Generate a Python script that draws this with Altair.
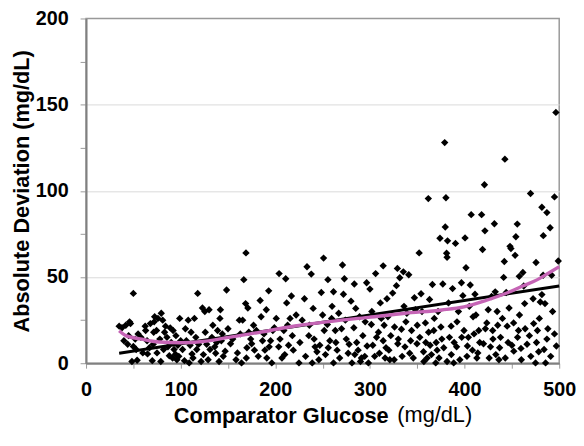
import altair as alt
import pandas as pd

# Scatter: comparator glucose (mg/dL) vs absolute deviation (mg/dL)
glucose = [
    35, 38, 42, 46, 47, 40, 44, 50, 48.5, 54, 53, 58, 55, 62.5, 64.5, 65, 70, 71, 71.5, 72, 72.5, 74.5, 76, 79.5,
    81, 79, 84, 85.5, 86.5, 89, 92, 88, 91.5, 94.5, 96, 97, 99, 100, 50,
    104, 108, 106, 109, 110, 112, 114.5, 118, 116, 117, 121.6, 123, 125.5, 127.5, 130, 129, 133, 136, 137, 139,
    141.5, 142, 140.6, 143, 145, 148.5, 150,
    152.7, 158.5, 162, 164.3, 165.5, 166.7, 169, 168.6, 171, 169.4, 172, 175, 178, 180, 184, 186.5, 189, 190.5,
    193, 193.5, 196.3, 197.4, 199,
    201, 203.6, 204, 207, 209, 211, 212, 214, 215.6, 217, 219, 225, 228.4, 230.8, 233.5, 235.4, 238, 239, 240,
    242, 244, 247, 248.6, 251,
    251.7, 255, 255.6, 257.6, 259.5, 261.5, 261.5, 263.4, 265.3, 267, 271, 272, 273, 275, 277, 281, 283, 283.5,
    285, 287.5, 290, 292.5, 294.5, 296.5, 298.4,
    300, 301.5, 303, 306, 307, 310, 312, 314, 314, 316, 318, 320, 322, 324, 325.6, 328, 329, 329.4, 331.5, 333.3,
    335.3, 337, 339, 341, 342, 344, 345.8, 348, 349.7,
    352, 352.7, 354, 356.6, 358.6, 360.5, 361.7, 363, 363.6, 366, 367.5, 369.5, 371, 372, 374, 376, 377, 379,
    379.6, 380.3, 381, 382, 381.5, 384, 385.8, 387.3, 388.5, 390.4, 391.6, 393.5, 396.7, 398.2, 399.4, 381.5,
    400.5, 401.5, 402.5, 404, 406, 407, 408.3, 409, 411, 413, 415, 418, 419, 420, 421, 421.5, 423.5, 426, 427.4,
    428.5, 429.7, 431.5, 432.4, 434.4, 436.3, 438, 441.3, 442, 442.6, 444, 445, 448, 449, 450,
    451.8, 453.4, 454.2, 455.7, 457, 457.8, 459.6, 461.6, 462.5, 463.5, 468.5, 469.7, 472.4, 475.5, 475, 477,
    478.3, 480, 481.7, 483.2, 481.7, 483, 485, 485.6, 487, 487, 490.4, 492, 495, 495, 496.5, 499,
    45, 52, 60, 63, 67, 68, 75, 78, 82, 83, 90, 93, 95, 98, 102, 105, 111, 113, 119, 124, 126, 131, 134, 138,
    144, 147, 155, 160, 163, 170, 174, 177, 182, 185, 188, 191, 195, 205, 210, 213, 218, 222, 226, 232, 236,
    241, 246, 250, 253, 256, 260, 264, 268, 270, 274, 278, 280, 284, 286, 289, 291, 295, 297, 302, 305, 309,
    311, 315, 317, 319, 321, 326, 330, 334, 336, 338, 343, 347, 350, 355, 357, 359, 362, 365, 368, 370, 373,
    375, 378, 383, 386, 389, 392, 395, 397, 403, 405, 410, 412, 414, 416, 422, 425, 430, 433, 435, 437, 440,
    443, 446, 447, 452, 456, 458, 460, 464, 466, 470, 473, 476, 479, 484, 488, 491, 493, 497,
]
deviation = [
    21.5, 20.6, 22, 24, 23, 13, 11, 9.7, 1, 1.7, 8, 15, 17, 21.5, 13, 5.4, 1.5, 11, 18, 24, 27, 19, 26, 29,
    25, 1, 21.5, 15, 9.5, 20.5, 19, 4.3, 3, 5.2, 2, 10.4, 26, 13, 40.5,
    1.5, 25, 13, 0.2, 10.4, 5.4, 26, 40.5, 15, 8, 1, 32, 30, 11, 31, 2, 15, 9.5, 5.8, 19,
    26, 31, 1, 13, 4, 42.5, 20,
    11.3, 2, 25, 0.2, 25, 48.5, 64, 34.6, 32, 3, 18, 11.3, 7.6, 19, 36.4, 13, 7.6, 31,
    42, 9.5, 0.2, 19, 20.6,
    26, 9.5, 52, 3, 19, 49, 35, 10.4, 26, 39, 7.6, 0.2, 25, 37.4, 56, 16, 51.7, 0.2, 31.8,
    9.5, 6.7, 10.4, 41, 61,
    19, 22.5, 48.5, 13, 26, 41.5, 0.2, 19, 7.6, 29, 57, 40, 49, 14, 5.8, 0.2, 20.6, 46,
    31.8, 7.6, 1, 16, 4, 46.7, 0.2,
    43, 22.5, 10.4, 52, 15, 5.8, 26, 56.5, 13, 3, 37.4, 7.6, 16, 40.7, 2, 45, 55, 11.3, 49.6, 19.7,
    53, 9.5, 29, 51.3, 5.8, 19, 3, 31, 11.3,
    64, 15, 40.3, 6.7, 23.4, 3, 95.5, 37, 10.4, 45.7, 19, 0.2, 7.6, 30, 72.5, 14, 46, 128,
    79, 96, 63.8, 71, 1, 15, 21.5, 43.3, 0.2, 69.5, 9.5, 30, 46.7, 39.2, 19, 61.5,
    72.7, 55.4, 4, 15, 45.4, 86.2, 7.6, 27, 40, 3, 19, 86.2, 66, 11.3, 103.5, 76.8, 23.4, 3, 9.5,
    38.7, 19, 80.9, 41.4, 30, 2, 15, 49.8, 59, 118.4, 41, 21.5, 67.8, 66.5, 10.4,
    23.4, 62.6, 73.4, 80.7, 19, 50.4, 8.6, 52.6, 44.8, 34.6, 16, 98.5, 37.4, 58.4, 0.2, 19,
    6.7, 35.5, 90.5, 74, 39.8, 51, 34.6, 0.2, 87.4, 14, 78.6, 51, 96.5, 17, 145.5, 59.3,
    16, 14, 6, 19, 9, 23, 6, 14, 8, 18, 12, 8, 16, 4, 8, 20, 18, 3, 11, 5, 18, 8, 22, 12,
    17, 7, 14, 6, 17, 9, 14, 22, 4, 27, 17, 3, 13, 14, 5, 22, 16, 28, 12, 4, 22,
    14, 2, 28, 5, 9, 33, 12, 3, 20, 25, 11, 36, 5, 12, 27, 3, 24, 10, 30, 4, 18,
    35, 22, 9, 27, 2, 21, 14, 4, 33, 24, 13, 38, 22, 30, 1, 12, 18, 5, 26, 12, 3,
    21, 9, 35, 5, 12, 24, 2, 15, 10, 33, 17, 28, 6, 12, 20, 31, 14, 5, 22, 9, 26,
    3, 12, 32, 7, 15, 28, 2, 20, 11, 4, 23, 12, 26, 8, 20, 4, 30, 10,
]

# Linear fit (black) and smoothed trend (pink)
fit_x = [35, 500]
fit_y = [5.8, 44.8]
smooth_x = [35, 42, 57.5, 77, 100, 123.5, 150.7, 182, 220.7, 259.5, 298.4, 337.2, 376, 399.4, 422.6, 446,
            461.5, 477, 488.5, 500]
smooth_y = [18.8, 16, 14.1, 12.3, 11.9, 12.6, 15, 17.8, 21.6, 24.3, 26.6, 29, 30.9, 32.7, 36.4, 41,
            44.8, 48.5, 52.2, 56]

x_ticks = [0, 50, 100, 150, 200, 250, 300, 350, 400, 450, 500]
y_ticks = [0, 25, 50, 75, 100, 125, 150, 175, 200]

pts = pd.DataFrame({"x": glucose, "y": deviation})
lin = pd.DataFrame({"x": fit_x, "y": fit_y})
smo = pd.DataFrame({"x": smooth_x, "y": smooth_y})
unit = pd.DataFrame({"t": ["(mg/dL)"]})

FONT = "Liberation Sans"
W, H = 479, 349

xscale = alt.Scale(domain=[0, 500], nice=False, zero=False)
yscale = alt.Scale(domain=[0, 200], nice=False)

xaxis = alt.Axis(
    values=x_ticks, labelExpr="datum.value % 100 === 0 ? datum.label : ''",
    title="Comparator Glucose", titleFont=FONT, titleFontSize=22, titleFontWeight="bold", titleColor="#000000",
    titleX=197, titleY=60, titleAlign="center", titleBaseline="alphabetic",
    labelFont=FONT, labelFontSize=20, labelFontWeight="bold", labelColor="#000000", labelPadding=12,
    labelFlush=False, labelOverlap=False,
    tickSize=5, tickColor="#999999", domainColor="#808080", domainWidth=2, grid=False,
)
yaxis = alt.Axis(
    values=y_ticks, labelExpr="datum.value % 50 === 0 ? datum.label : ''",
    title="Absolute Deviation (mg/dL)", titleFont=FONT, titleFontSize=22, titleFontWeight="bold",
    titleColor="#000000", titleX=-58, titleY=H / 2, titleAlign="center", titleBaseline="alphabetic",
    titleAngle=270,
    labelFont=FONT, labelFontSize=20, labelFontWeight="bold", labelColor="#000000", labelPadding=12,
    labelFlush=False, labelOverlap=False,
    tickSize=6, tickColor="#999999", domainColor="#808080", domainWidth=2,
    grid=True, gridColor="#d9d9d9", gridWidth=1,
    gridOpacity={"condition": {"test": "datum.value % 50 === 0 && datum.value > 0 && datum.value < 200",
                               "value": 1}, "value": 0},
)

points = alt.Chart(pts).mark_point(shape="diamond", filled=True, color="#000000", size=56, opacity=1).encode(
    x=alt.X("x:Q", scale=xscale, axis=xaxis),
    y=alt.Y("y:Q", scale=yscale, axis=yaxis),
)
fit = alt.Chart(lin).mark_line(color="#000000", strokeWidth=3).encode(
    x=alt.X("x:Q", scale=xscale, axis=xaxis),
    y=alt.Y("y:Q", scale=yscale, axis=yaxis),
)
smooth = alt.Chart(smo).mark_line(color="#C564B5", strokeWidth=3.4, interpolate="monotone").encode(
    x=alt.X("x:Q", scale=xscale, axis=xaxis),
    y=alt.Y("y:Q", scale=yscale, axis=yaxis),
)
unit_text = alt.Chart(unit).mark_text(
    font=FONT, fontSize=22, fontWeight="normal", color="#000000", align="center", baseline="alphabetic"
).encode(
    x=alt.value(353), y=alt.value(H + 60), text="t:N"
)

chart = alt.layer(points, fit, smooth, unit_text).properties(
    width=W, height=H,
    autosize=alt.AutoSizeParams(type="none"),
    padding={"left": 79, "top": 8, "right": 17, "bottom": 66},
    background="white",
).configure_view(stroke="#999999", strokeWidth=1.5)

chart.save("out.html", embed_options={"renderer": "svg", "actions": False})
